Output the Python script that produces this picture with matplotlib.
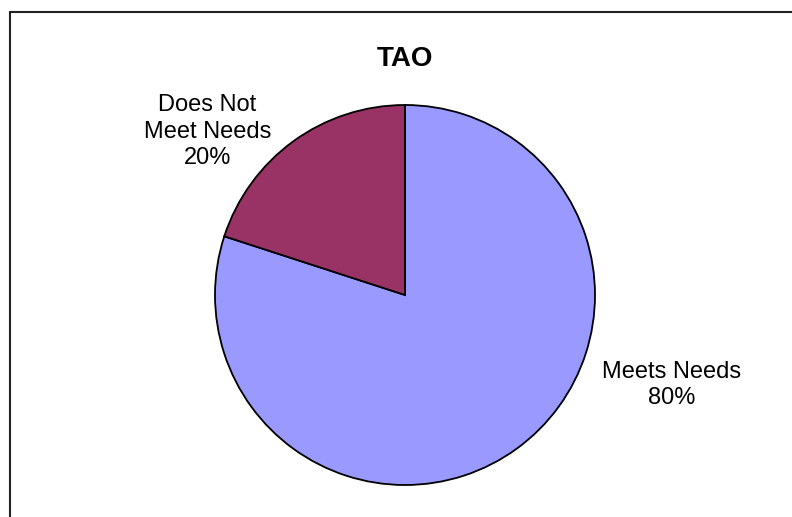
import matplotlib
matplotlib.use('Agg')
import matplotlib.pyplot as plt
from matplotlib.patches import Rectangle

# 数据
labels = ['Meets Needs', 'Does Not\nMeet Needs']
values = [80, 20]
colors = ['#9999FF', '#993366']
title = 'TAO'

plt.rcParams['font.family'] = ['Liberation Sans', 'DejaVu Sans']

W, H = 792, 517
fig = plt.figure(figsize=(W / 100, H / 100), dpi=100)

# 外框（右侧和底部超出画面）
fig.patches.append(Rectangle((10 / W, -0.1), 1.2, 1.1 - 12 / H,
                             transform=fig.transFigure, fill=False,
                             edgecolor='#222222', linewidth=1.5))

# 饼图区域：圆心 (405, 295) 像素，半径 190
cx, cy, r = 405, H - 295, 190
ax = fig.add_axes([(cx - r) / W, (cy - r) / H, 2 * r / W, 2 * r / H])
ax.pie(values, colors=colors, startangle=90, counterclock=False, radius=1,
       wedgeprops=dict(edgecolor='black', linewidth=1.3))
ax.set_xlim(-1, 1)
ax.set_ylim(-1, 1)
ax.set_aspect('equal')
ax.axis('off')

# 数据标签
label_pos = [(1.405, -0.475), (-1.04, 0.86)]
total = sum(values)
for lab, v, (x, y) in zip(labels, values, label_pos):
    ax.text(x, y, f'{lab}\n{v / total * 100:.0f}%', ha='center', va='center',
            fontsize=17, linespacing=1.25, clip_on=False)

fig.text(cx / W, 1 - 59 / H, title, ha='center', va='center',
         fontsize=20, fontweight='bold')

fig.savefig('out.png', dpi=100)
